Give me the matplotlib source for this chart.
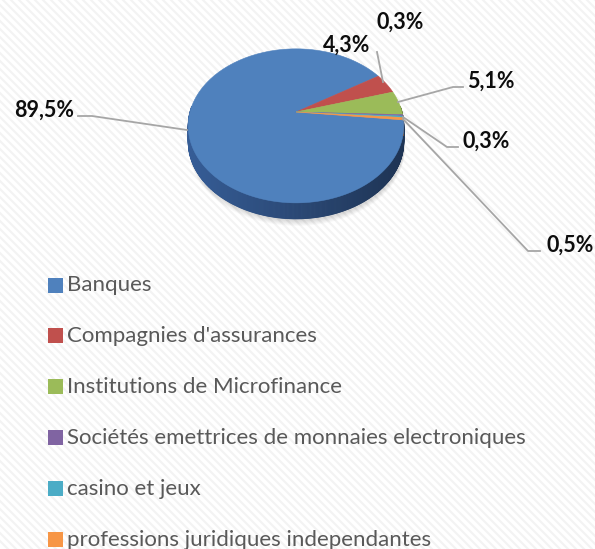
import numpy as np
import matplotlib
matplotlib.use("Agg")
import matplotlib.pyplot as plt
from matplotlib.colors import to_rgb
from matplotlib.patches import Polygon, Rectangle

categories = [
    "Banques",
    "Compagnies d'assurances",
    "Institutions de Microfinance",
    "Sociétés emettrices de monnaies electroniques",
    "casino et jeux",
    "professions juridiques independantes",
]
values = [89.5, 4.3, 5.1, 0.3, 0.3, 0.5]
labels = ["89,5%", "4,3%", "5,1%", "0,3%", "0,3%", "0,5%"]
colors = ["#4f81bd", "#c0504d", "#9bbb59", "#8064a2", "#4bacc6", "#f79646"]
side_colors = ["#2b4a78", "#8a3533", "#6e8a3c", "#5a4576", "#357c8f", "#b86b2f"]

W, H = 595, 549
fig = plt.figure(figsize=(W / 100, H / 100), dpi=100)
ax = fig.add_axes([0, 0, 1, 1])
ax.set_xlim(0, W)
ax.set_ylim(H, 0)
ax.axis("off")

# faint diagonal stripes in the background
for c in np.arange(-W, H, 8):
    ax.plot([0, W], [c, c + W], color="#f3f3f3", lw=1.5, zorder=0)

# pie geometry (pixels), simple perspective tilt
cx, cy = 296, 112
sx, sy = 106, 74.5
k = 0.18
depth = 16
start = -6.0  # degrees, Banques goes clockwise from here


def proj(theta_deg):
    t = np.radians(theta_deg)
    u, v = np.cos(t), -np.sin(t)  # v positive towards viewer (down)
    f = 1 - k * v
    return cx + sx * u / f, cy + sy * v / f


fracs = np.array(values) / sum(values) * 360
bounds = start - np.concatenate([[0], np.cumsum(fracs)])

# soft shadow
for i in range(6):
    th = np.linspace(0, 360, 200)
    px, py = proj(th)
    ax.fill(px + 1, py + depth + 2 + i, color="#000000", alpha=0.025, lw=0, zorder=1)

# side wall
for i in range(len(values)):
    th = np.linspace(bounds[i], bounds[i + 1], max(4, int(abs(fracs[i]) * 2)))
    px, py = proj(th)
    for j in range(len(th) - 1):
        if py[j] < cy - 5 and py[j + 1] < cy - 5:
            continue
        # darker towards the right
        mx = (px[j] + px[j + 1]) / 2
        s = np.clip((mx - (cx - sx)) / (2 * sx), 0, 1)
        base = np.array(to_rgb(side_colors[i]))
        col = np.clip(base * (1.25 - 0.55 * s), 0, 1)
        quad = [(px[j], py[j]), (px[j + 1], py[j + 1]),
                (px[j + 1], py[j + 1] + depth), (px[j], py[j] + depth)]
        ax.add_patch(Polygon(quad, closed=True, fc=col, ec=col, lw=0.6, zorder=2))

# top face
for i in range(len(values)):
    th = np.linspace(bounds[i], bounds[i + 1], max(3, int(abs(fracs[i]) * 2)))
    px, py = proj(th)
    pts = [(cx, cy)] + list(zip(px, py))
    ax.add_patch(Polygon(pts, closed=True, fc=colors[i], ec=colors[i], lw=0.4, zorder=3))

# data labels with leader lines
lab_font = dict(family=["Lato", "DejaVu Sans"], fontsize=15.5, fontweight="bold", color="#0d0d0d", zorder=5)
lead = dict(color="#a6a6a6", lw=1.3, zorder=4)

ax.text(74, 110, labels[0], ha="right", va="center", **lab_font)
ax.plot([78, 92, 187], [116, 116, 130], **lead)

ax.text(347, 45, labels[1], ha="center", va="center", **lab_font)
ax.plot([377, 383], [52, 82], **lead)

ax.text(491, 81, labels[2], ha="center", va="center", **lab_font)
ax.plot([463, 453, 398], [87, 87, 102], **lead)

ax.text(400, 22, labels[3], ha="center", va="center", **lab_font)

ax.text(486, 141, labels[4], ha="center", va="center", **lab_font)
ax.plot([403, 447, 458], [117, 147, 147], **lead)

ax.text(570, 245, labels[5], ha="center", va="center", **lab_font)
ax.plot([403, 528, 540], [119, 251, 251], **lead)

# legend
leg_y0, leg_dy = 285, 50.9
for i, name in enumerate(categories):
    y = leg_y0 + i * leg_dy
    ax.add_patch(Rectangle((48, y - 7.5), 15, 15, fc=colors[i], ec="none", zorder=5))
    ax.text(67, y, name, ha="left", va="center", fontsize=16,
            family=["Lato", "DejaVu Sans"], color="#595959", zorder=5)

fig.savefig("out.png", dpi=100)
